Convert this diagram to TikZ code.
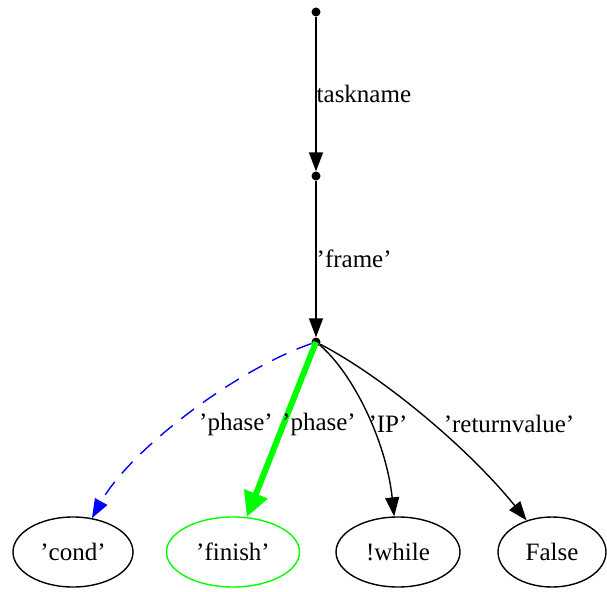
\documentclass[tikz,border=0pt]{standalone}
\usepackage{fontspec}
\setmainfont{Liberation Serif}
\usetikzlibrary{arrows.meta,shapes.geometric}
\definecolor{Ink}{HTML}{000000}
\definecolor{Lime}{HTML}{00FF00}
\definecolor{Azure}{HTML}{0000FF}
\tikzset{
  junction/.style={circle, fill=Ink, inner sep=0pt, minimum size=9pt},
  value/.style={
    ellipse, draw=Ink, line width=1.4pt, inner sep=0pt,
    minimum width=120pt, minimum height=70pt
  },
  tag/.style={inner sep=1pt, font=\fontsize{25}{30}\selectfont},
  flow/.style={-{Triangle[length=19pt,width=14pt]}, line width=1.4pt, draw=Ink},
  condflow/.style={-{Triangle[length=19pt,width=14pt]}, line width=1.4pt,
    draw=Azure, dash pattern=on 16pt off 11pt},
  hotflow/.style={-{Triangle[length=25pt,width=24pt]}, line width=6pt, draw=Lime}
}

\begin{document}
\begin{tikzpicture}[x=1pt, y=-1pt, font=\fontsize{25}{30}\selectfont]
        \useasboundingbox (0,0) rectangle (607,591);
        % attribute chain
        \node[junction] (top) at (316,12) {};
        \node[junction] (task) at (316,176) {};
        \node[junction] (frame) at (316,342) {};
        % possible values
        \node[value, minimum width=120pt] (cond) at (73,552) {'cond'};
        \node[value, draw=Lime, minimum width=133pt] (finish) at (233,552) {'finish'};
        \node[value, minimum width=124pt] (while) at (398,552) {!while};
        \node[value, minimum width=108pt] (false) at (552,552) {False};
        \draw[flow] (top) -- node[tag, right, inner sep=0pt] {taskname} (task);
        \draw[flow] (task) -- node[tag, right, inner sep=0pt] {'frame'} (frame);
        \draw[condflow] (frame) .. controls (235,370) and (130,450) .. (cond);
        \draw[hotflow] (frame.center) -- (finish);
        \draw[flow] (frame) .. controls (352,372) and (386,440) .. (while);
        \draw[flow] (frame) .. controls (385,378) and (470,450) .. (false);
        % edge labels
        \node[tag] (lphase) at (236,424) {'phase'};
        \node[tag] (rphase) at (319,424) {'phase'};
        \node[tag] (lip) at (388,424) {'IP'};
        \node[tag] (lret) at (509,424) {'returnvalue'};
      \end{tikzpicture}
\end{document}
